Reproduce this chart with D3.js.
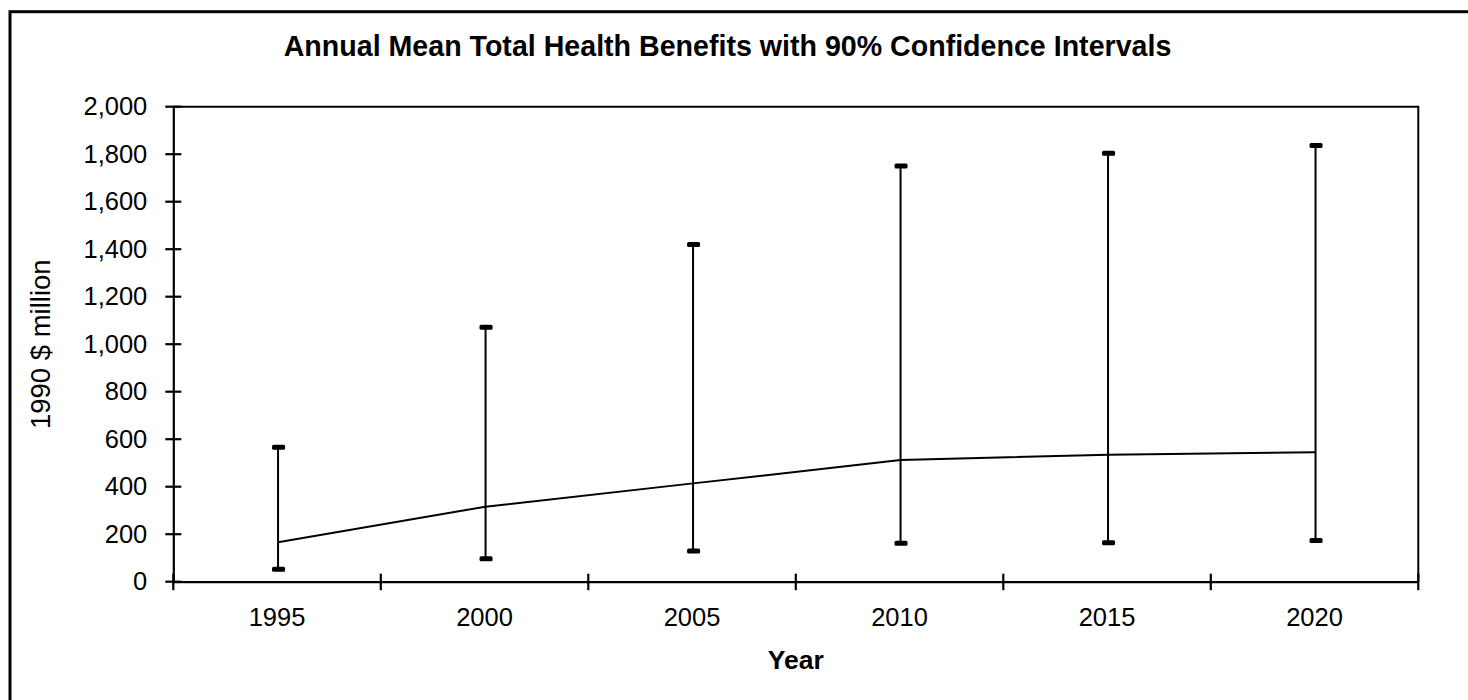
<!DOCTYPE html>
<html>
<head>
<meta charset="utf-8">
<script src="https://cdn.jsdelivr.net/npm/d3@7"></script>
<style>
  html, body { margin: 0; padding: 0; background: #fff; }
  svg { display: block; }
  text { font-family: "Liberation Sans", Arial, sans-serif; fill: #000; }
</style>
</head>
<body>
<svg id="chart" width="1468" height="700"></svg>
<script>
const years = ["1995", "2000", "2005", "2010", "2015", "2020"];
const meanValues = [166, 316, 414, 512, 535, 545];
const lowerValues = [52, 97, 129, 162, 164, 173];
const upperValues = [566, 1071, 1420, 1750, 1804, 1837];
const yTickValues = [0, 200, 400, 600, 800, 1000, 1200, 1400, 1600, 1800, 2000];
const titleText = "Annual Mean Total Health Benefits with 90% Confidence Intervals";
const xTitle = "Year";
const yTitle = "1990 $ million";

const svg = d3.select("#chart");
const plotLeft = 173.3, plotRight = 1418.3, plotTop = 106.7, plotBottom = 581.7;

svg.append("rect").attr("width", 1468).attr("height", 700).attr("fill", "#fff");
// outer frame (extends past right/bottom edges)
svg.append("rect")
  .attr("x", 10).attr("y", 11.7).attr("width", 1490).attr("height", 720)
  .attr("fill", "none").attr("stroke", "#000").attr("stroke-width", 3);

const x = d3.scaleBand().domain(years).range([plotLeft, plotRight]).padding(0);
const y = d3.scaleLinear().domain([0, 2000]).range([plotBottom, plotTop]);

// plot frame top & right
svg.append("path")
  .attr("d", `M${plotLeft},${plotTop}H${plotRight}V${plotBottom}`)
  .attr("fill", "none").attr("stroke", "#000").attr("stroke-width", 2);

// title
svg.append("text")
  .attr("x", 727.5).attr("y", 56)
  .attr("text-anchor", "middle")
  .attr("font-weight", "bold").attr("font-size", 28.6)
  .text(titleText);

// y axis
const yAxis = svg.append("g")
  .attr("transform", `translate(${plotLeft},0)`)
  .call(d3.axisLeft(y).tickValues(yTickValues).tickFormat(d3.format(",")).tickSize(0).tickPadding(26));
yAxis.select(".domain").attr("stroke", "#000").attr("stroke-width", 2.2);
yAxis.selectAll("text").attr("font-size", 25.5).attr("font-family", "Liberation Sans, Arial, sans-serif").attr("fill", "#000");
svg.append("g").selectAll("line").data(yTickValues).join("line")
  .attr("x1", plotLeft - 8).attr("x2", plotLeft + 8)
  .attr("y1", d => y(d)).attr("y2", d => y(d))
  .attr("stroke", "#000").attr("stroke-width", 2.2);

// x axis
const xAxis = svg.append("g")
  .attr("transform", `translate(0,${plotBottom})`)
  .call(d3.axisBottom(x).tickSize(0).tickPadding(26));
xAxis.select(".domain").attr("stroke", "#000").attr("stroke-width", 2.2);
xAxis.selectAll("text").attr("font-size", 25.5).attr("font-family", "Liberation Sans, Arial, sans-serif").attr("fill", "#000");
const boundaries = years.map(d => x(d)).concat([x(years[years.length - 1]) + x.bandwidth()]);
svg.append("g").selectAll("line").data(boundaries).join("line")
  .attr("x1", d => d).attr("x2", d => d)
  .attr("y1", plotBottom - 8).attr("y2", plotBottom + 8.5)
  .attr("stroke", "#000").attr("stroke-width", 2.2);

// axis titles
svg.append("text")
  .attr("x", (plotLeft + plotRight) / 2).attr("y", 669)
  .attr("text-anchor", "middle")
  .attr("font-weight", "bold").attr("font-size", 26.5)
  .text(xTitle);
svg.append("text")
  .attr("transform", `translate(50,${(plotTop + plotBottom) / 2}) rotate(-90)`)
  .attr("text-anchor", "middle")
  .attr("font-size", 27.5).attr("fill", "#222")
  .text(yTitle);

// data
const data = years.map((yr, i) => ({ yr, mean: meanValues[i], lo: lowerValues[i], hi: upperValues[i] }));
const cx = d => x(d.yr) + x.bandwidth() / 2 + 1;

const g = svg.append("g");
g.selectAll("line.err").data(data).join("line")
  .attr("class", "err")
  .attr("x1", cx).attr("x2", cx)
  .attr("y1", d => y(d.lo)).attr("y2", d => y(d.hi))
  .attr("stroke", "#000").attr("stroke-width", 2);
const caps = data.flatMap(d => [{ d, v: d.lo }, { d, v: d.hi }]);
g.selectAll("rect.cap").data(caps).join("rect")
  .attr("class", "cap")
  .attr("x", c => cx(c.d) - 6).attr("y", c => y(c.v) - 2.5)
  .attr("width", 13).attr("height", 5).attr("rx", 1.5)
  .attr("fill", "#000");

const line = d3.line().x(cx).y(d => y(d.mean));
g.append("path").datum(data)
  .attr("d", line)
  .attr("fill", "none").attr("stroke", "#000").attr("stroke-width", 2);
</script>
</body>
</html>
